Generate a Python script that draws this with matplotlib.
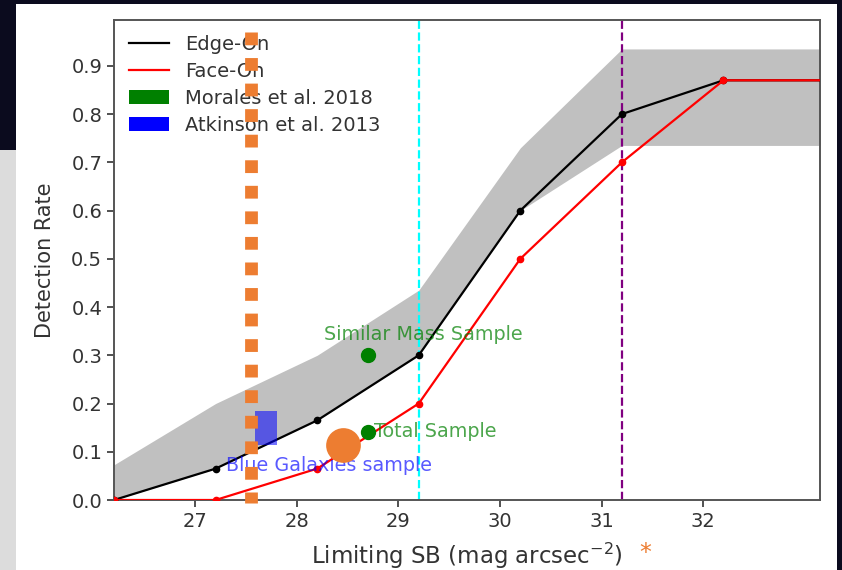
import matplotlib.pyplot as plt
from matplotlib.patches import Rectangle, Patch
from matplotlib.lines import Line2D

# limiting surface brightness bins (mag arcsec^-2)
sb_limit = [26.2, 27.2, 28.2, 29.2, 30.2, 31.2, 32.2, 33.2]
edge_on = [0.0, 0.065, 0.165, 0.30, 0.60, 0.80, 0.87, 0.87]
face_on = [0.0, 0.0, 0.065, 0.20, 0.50, 0.70, 0.87, 0.87]
band_low = [0.0, 0.065, 0.165, 0.30, 0.60, 0.735, 0.735, 0.735]
band_high = [0.073, 0.20, 0.30, 0.435, 0.73, 0.935, 0.935, 0.935]

# literature comparison points
morales_sb = [28.7, 28.7]
morales_rate = [0.30, 0.14]
atkinson_sb = (27.59, 27.80)
atkinson_rate = (0.113, 0.185)

# reference depths
cyan_sb = 29.2
purple_sb = 31.2

# highlight overlays
marker_sb = 27.55
marker_span = (0.970, -0.006)
dot_sb, dot_rate = 28.45, 0.115

xticks = [27, 28, 29, 30, 31, 32]
yticks = [0.0, 0.1, 0.2, 0.3, 0.4, 0.5, 0.6, 0.7, 0.8, 0.9]

orange = "#ED7D31"
ink = "#333333"

fig = plt.figure(figsize=(8.42, 5.70), dpi=100, facecolor="#0b0b1e")
fig.add_artist(Rectangle((0, 0), 16 / 842, 420 / 570, transform=fig.transFigure,
                         facecolor="#dcdcdc", edgecolor="none", zorder=-10))
fig.add_artist(Rectangle((16 / 842, 0), 821 / 842, 566 / 570, transform=fig.transFigure,
                         facecolor="white", edgecolor="none", zorder=-10))

ax = fig.add_axes([114 / 842, 70 / 570, 706 / 842, 480 / 570])
ax.set_facecolor("white")

ax.fill_between(sb_limit, band_low, band_high, color="#c0c0c0", lw=0, zorder=1)
ax.plot(sb_limit, edge_on, color="black", lw=1.6, marker="o", ms=4.5, zorder=3)
ax.plot(sb_limit, face_on, color="red", lw=1.6, marker="o", ms=4.5, zorder=4)

ax.axvline(cyan_sb, color="cyan", ls="--", lw=1.6, zorder=2)
ax.axvline(purple_sb, color="purple", ls="--", lw=1.6, zorder=2)

ax.plot(morales_sb, morales_rate, "o", color="green", ms=10, zorder=5)
ax.add_patch(Rectangle((atkinson_sb[0], atkinson_rate[0]),
                       atkinson_sb[1] - atkinson_sb[0], atkinson_rate[1] - atkinson_rate[0],
                       facecolor="blue", alpha=0.55, edgecolor="none", zorder=5))

ax.text(28.27, 0.344, "Similar Mass Sample", color="green", alpha=0.7,
        fontsize=13.8, va="center", ha="left", zorder=6)
ax.text(28.76, 0.142, "Total Sample", color="green", alpha=0.7,
        fontsize=13.8, va="center", ha="left", zorder=6)
ax.text(27.3, 0.072, "Blue Galaxies sample", color="blue", alpha=0.65,
        fontsize=13.8, va="center", ha="left", zorder=6)

# orange overlay marks
ax.plot([marker_sb, marker_sb], marker_span, color=orange, lw=9.2,
        dashes=(1.0, 1.0), solid_capstyle="butt", dash_capstyle="butt",
        clip_on=False, zorder=8)
ax.plot([dot_sb], [dot_rate], "o", color=orange, ms=25, mew=0, zorder=8)

ax.set_xlim(26.2, 33.15)
ax.set_ylim(0, 0.995)
ax.set_xticks(xticks)
ax.set_yticks(yticks)
ax.set_yticklabels([f"{v:.1f}" for v in yticks])
ax.tick_params(labelsize=14, colors=ink, length=5, width=1.2)
for sp in ax.spines.values():
    sp.set_color("#555555")
    sp.set_linewidth(1.4)

ax.set_ylabel("Detection Rate", fontsize=15, color=ink, labelpad=12)
ax.set_xlabel(r"Limiting SB (mag arcsec$^{-2}$)", fontsize=16.5, color=ink, labelpad=7)
fig.text(645 / 842, 1 - 553 / 570, "*", color=orange, fontsize=17,
         ha="center", va="center")

handles = [
    Line2D([], [], color="black", lw=1.6),
    Line2D([], [], color="red", lw=1.6),
    Patch(facecolor="green"),
    Patch(facecolor="blue"),
]
labels = ["Edge-On", "Face-On", "Morales et al. 2018", "Atkinson et al. 2013"]
leg = ax.legend(handles, labels, loc="upper left", fontsize=14, frameon=False,
                handlelength=2.1, handletextpad=0.8, borderaxespad=0.35,
                labelspacing=0.42)
for t in leg.get_texts():
    t.set_color(ink)
leg.set_zorder(7)

fig.savefig("out.png", dpi=100, facecolor=fig.get_facecolor())
